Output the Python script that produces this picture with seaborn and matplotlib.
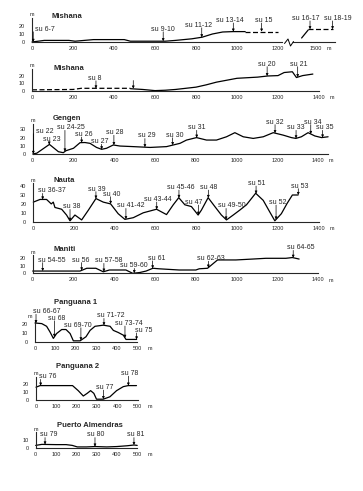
import numpy as np
import matplotlib
matplotlib.use("Agg")
import matplotlib.pyplot as plt
from matplotlib.lines import Line2D
import seaborn as sns

sns.set_style("white")
plt.rcParams['font.family'] = ['Liberation Sans', 'DejaVu Sans']

W, H = 363, 491

# ---------------- data (distance in m, elevation in m) ----------------
# Mishana (upper profile)
mish1_dist = [0, 30, 60, 100, 180, 210, 300, 350, 450, 480, 600, 650, 700, 780, 830, 880, 930, 980, 1040]
mish1_elev = [0, 1, 2, 2, 2, 1, 3, 3, 3, 1, 1, 1, 2, 4, 6, 10, 12.5, 13, 13]
mish1_dash_dist = [1040, 1200]
mish1_dash_elev = [13, 13]
mish1b_dist = [1430, 1462]
mish1b_elev = [5, 15]
mish1b_dash_dist = [1462, 1583]
mish1b_dash_elev = [16, 16]
mish1_names = ["su 6-7", "su 9-10", "su 11-12", "su 13-14", "su 15"]
mish1_sites = [6, 640, 828, 982, 1120]
mish1b_names = ["su 16-17", "su 18-19"]
mish1b_sites = [1471, 1581]

# Mishana (lower profile)
mish2_dash_dist = [0, 200, 240, 480]
mish2_dash_elev = [1.5, 2, 3.5, 3.5]
mish2_dist = [480, 540, 600, 650, 700, 800, 850, 900, 950, 1000, 1100, 1150, 1200, 1230, 1270, 1290, 1320, 1370]
mish2_elev = [3, 2, 0.5, 1, 2, 5, 8, 11.5, 14, 16.5, 18, 19.5, 20, 24, 25, 17.5, 20, 22]
mish2_names = ["su 8", "", "su 20", "su 21"]
mish2_sites = [312, 494, 1147, 1296]

# Gengen
geng_dist = [0, 20, 82, 126, 150, 163, 200, 232, 256, 281, 313, 338, 362, 395, 428, 493, 575, 656, 689,
             722, 754, 803, 852, 901, 950, 991, 1032, 1081, 1130, 1179, 1228, 1268, 1290, 1317, 1350,
             1383, 1416, 1448]
geng_elev = [0, 1, 11.7, 2.8, 1.6, 4, 7, 13.8, 14, 13, 8, 5.7, 7, 11, 9.7, 9, 8, 9, 11,
             13, 17, 20, 17, 17, 21, 26, 21, 19, 21, 26, 23, 20, 19, 21, 26,
             22, 20, 21]
geng_names = ["su 22", "su 23", "su 24-25", "su 26", "su 27", "su 28", "su 29", "su 30", "su 31",
              "su 32", "su 33", "su 34", "su 35"]
geng_sites = [3, 81, 158, 240, 338, 398, 550, 686, 804, 1188, 1291, 1363, 1421]

# Nauta
naut_dist = [0, 33, 65, 88, 98, 106, 139, 163, 180, 204, 237, 270, 307, 343, 379, 416, 449, 490, 539,
             604, 653, 686, 713, 743, 775, 808, 824, 857, 890, 922, 947, 980, 1012, 1045, 1090, 1127,
             1159, 1184, 1216, 1244, 1270, 1298]
naut_elev = [22, 25, 25, 20, 22, 16, 14, 7.5, 1, 7.5, 2, 13, 26, 22, 20, 9, 2.6, 4.5, 10,
             14, 8, 19, 27, 19, 17, 7.5, 13, 27, 17, 7.5, 2, 7.5, 13, 19, 32, 24,
             11, 1, 9, 20.5, 30, 30]
naut_names = ["su 36-37", "su 38", "su 39", "su 40", "su 41-42", "su 43-44", "su 45-46", "su 47",
              "su 48", "su 49-50", "su 51", "su 52", "su 53"]
naut_sites = [46, 180, 307, 379, 454, 605, 714, 809, 858, 945, 1092, 1190, 1299]

# Maniti
mani_dist = [0, 232, 265, 310, 346, 376, 457, 490, 524, 556, 589, 620, 718, 800, 816, 857, 906, 996,
             1078, 1143, 1241, 1273, 1306]
mani_elev = [3, 3, 6.7, 6.7, 2, 4.4, 4.4, 0, 1, 3, 6.7, 6, 4.4, 4.4, 6, 6.7, 17.8, 17.8,
             19, 20, 20, 21, 19]
mani_names = ["su 54-55", "su 56", "su 57-58", "su 59-60", "su 61", "su 62-63", "su 64-65"]
mani_sites = [49, 240, 349, 498, 588, 861, 1277]

# Panguana 1
pan1_dist = [0, 33, 57, 74, 90, 106, 131, 152, 172, 188, 221, 250, 270, 294, 335, 368, 384, 408, 433, 446, 498]
pan1_elev = [21.5, 20.8, 17.7, 11, 3.8, 9.4, 14, 14, 9.4, 1, 1, 5.7, 13, 17.7, 19, 17.7, 13, 10.6, 7.5, 2.6, 2.6]
pan1_names = ["su 66-67", "su 68", "su 69-70", "su 71-72", "su 73-74", "su 75"]
pan1_sites = [5, 95, 225, 338, 441, 498]

# Panguana 2
pan2_dist = [0, 20, 180, 208, 233, 252, 269, 285, 298, 331, 364, 397, 430, 454, 495]
pan2_elev = [16, 18, 18, 11.7, 5, 8.3, 11.7, 8.3, 1, 1, 4, 11.7, 16.7, 18, 18]
pan2_names = ["su 76", "su 77", "su 78"]
pan2_sites = [23, 332, 455]

# Puerto Almendras
puer_dist = [0, 30, 100, 150, 180, 205, 250, 292, 350, 400, 450, 484, 500]
puer_elev = [3, 4.3, 4, 4, 3, 1, 1, 1.5, 1, 1.5, 2.5, 3.5, 3]
puer_names = ["su 79", "su 80", "su 81"]
puer_sites = [46, 292, 484]

# ---------------- layout ----------------
fig = plt.figure(figsize=(W / 100, H / 100), dpi=100)
fig.patch.set_facecolor("white")

LW = 0.9
TICK_FS = 4
LAB_FS = 5


def make_axes(x0, base, sx, sy, xlim, ymax, xticks, yticks, unit=True, left=True, m_dx=0):
    ax = fig.add_axes([x0 / W, (H - base) / H, (xlim[1] - xlim[0]) * sx / W, ymax * sy / H])
    ax.set_facecolor("none")
    ax.set_xlim(*xlim)
    ax.set_ylim(0, ymax)
    for s in ["top", "right"]:
        ax.spines[s].set_visible(False)
    ax.spines["bottom"].set_linewidth(0.8)
    ax.spines["left"].set_linewidth(0.8)
    ax.set_xticks(xticks)
    ax.set_xticklabels([str(t) for t in xticks])
    ax.tick_params(axis="x", direction="inout", length=3, width=0.6, labelsize=TICK_FS, pad=1.5)
    if left:
        ax.set_yticks(yticks)
        ax.set_yticklabels([str(t) for t in yticks])
        ax.tick_params(axis="y", direction="inout", length=3, width=0.6, labelsize=TICK_FS, pad=3.5)
        ax.annotate("m", xy=(0, 1), xycoords="axes fraction", xytext=(m_dx, 0.5),
                    textcoords="offset points", ha="center", va="bottom",
                    fontsize=TICK_FS, annotation_clip=False)
    else:
        ax.spines["left"].set_visible(False)
        ax.set_yticks([])
    if unit:
        ax.annotate("m", xy=(xticks[-1], 0), xycoords=("data", "axes fraction"),
                    xytext=(7.5, -3.2), textcoords="offset points", ha="left", va="top",
                    fontsize=TICK_FS, annotation_clip=False)
    ax.set_xlabel("")
    ax.set_ylabel("")
    return ax


def profile(ax, dist, elev, dashed=False):
    sns.lineplot(x=dist, y=elev, ax=ax, color="black", lw=LW, sort=False, estimator=None,
                 linestyle="--" if dashed else "-", clip_on=False)
    if dashed:
        ax.lines[-1].set_dashes([4, 2])
    ax.set_xlabel("")
    ax.set_ylabel("")


def sites(ax, names, arrow_x, text_x, text_y, dist, elev, sy):
    half = 2.6 / sy
    order = np.argsort(dist)
    d = np.asarray(dist, float)[order]
    e = np.asarray(elev, float)[order]
    for n, a, tx, ty in zip(names, arrow_x, text_x, text_y):
        target = np.interp(a, d, e)
        ax.annotate("", xy=(a, target), xytext=(a, ty - half),
                    arrowprops=dict(arrowstyle="-|>", lw=0.5, color="black",
                                    mutation_scale=3.5, shrinkA=0, shrinkB=0),
                    annotation_clip=False)
        if n:
            ax.text(tx, ty, n, ha="center", va="center", fontsize=LAB_FS, clip_on=False)


def title(text, x, y):
    fig.text(x / W, 1 - y / H, text, ha="left", va="center", fontsize=5.5, fontweight="bold")


x200 = [0, 200, 400, 600, 800, 1000, 1200, 1400]
x100 = [0, 100, 200, 300, 400, 500]

# Mishana upper
ax = make_axes(32, 42, 0.205, 0.8, (0, 1220), 30, x200[:-1], [0, 10, 20], unit=False)
profile(ax, mish1_dist, mish1_elev)
profile(ax, mish1_dash_dist, mish1_dash_elev, dashed=True)
sites(ax, mish1_names, mish1_sites, [65, 640, 813, 964, 1132], [16, 16, 21, 27, 27],
      mish1_dist + mish1_dash_dist, mish1_elev + mish1_dash_elev, 0.8)
title("Mishana", 52, 16)

axb = make_axes(293, 42, 0.205, 0.8, (1388, 1593), 30, [1500], [], unit=True, left=False)
profile(axb, mish1b_dist, mish1b_elev)
profile(axb, mish1b_dash_dist, mish1b_dash_elev, dashed=True)
sites(axb, mish1b_names, mish1b_sites, [1448, 1606], [29.6, 29.6],
      mish1b_dist + mish1b_dash_dist, mish1b_elev + mish1b_dash_elev, 0.8)
# axis break mark
bx = np.array([284.5, 288, 290.5, 293.5])
by = np.array([43.5, 39, 46, 41.5])
fig.add_artist(Line2D(bx / W, 1 - by / H, color="black", lw=0.7))

# Mishana lower
ax = make_axes(32, 91, 0.205, 0.77, (0, 1400), 29, x200, [0, 10, 20])
profile(ax, mish2_dist, mish2_elev)
profile(ax, mish2_dash_dist, mish2_dash_elev, dashed=True)
sites(ax, mish2_names, mish2_sites, [307, 494, 1147, 1299], [16.6, 17, 35, 35],
      mish2_dist + mish2_dash_dist, mish2_elev + mish2_dash_elev, 0.77)
title("Mishana", 53, 68)

# Gengen
ax = make_axes(32.7, 154, 0.204, 0.82, (0, 1450), 37, x200, [0, 10, 20, 30])
profile(ax, geng_dist, geng_elev)
sites(ax, geng_names, geng_sites,
      [58, 93, 189, 248, 330, 402, 559, 696, 804, 1188, 1289, 1371, 1430],
      [28, 18, 32, 23.8, 15, 26, 22, 23, 32, 39, 32, 39, 32],
      geng_dist, geng_elev, 0.82)
title("Gengen", 53, 119)

# Nauta
ax = make_axes(33.3, 221.7, 0.204, 0.89, (0, 1400), 43, x200, [0, 10, 20, 30, 40])
profile(ax, naut_dist, naut_elev)
sites(ax, naut_names, naut_sites,
      [92, 188, 311, 386, 478, 609, 723, 784, 860, 972, 1095, 1196, 1305],
      [34.7, 16.7, 36.7, 31, 17.8, 25, 38.4, 21.6, 38.4, 17.8, 43, 21.6, 40],
      naut_dist, naut_elev, 0.89)
title("Nauta", 53, 180.5)

# Maniti
ax = make_axes(32.7, 273.3, 0.204, 0.75, (0, 1400), 24, x200, [0, 10, 20])
profile(ax, mani_dist, mani_elev)
sites(ax, mani_names, mani_sites,
      [93, 234, 375, 497, 606, 873, 1314],
      [17.7, 17.7, 16.7, 10, 20, 19.5, 34],
      mani_dist, mani_elev, 0.75)
title("Maniti", 54, 249.7)

# Panguana 1
ax = make_axes(35, 341.7, 0.204, 0.87, (0, 500), 25, x100, [0, 10, 20], m_dx=-3.5)
profile(ax, pan1_dist, pan1_elev)
sites(ax, pan1_names, pan1_sites,
      [57, 106, 212, 372, 460, 533],
      [34.5, 27, 19, 29.7, 21, 13],
      pan1_dist, pan1_elev, 0.87)
title("Panguana 1", 54, 302)

# Panguana 2
ax = make_axes(36, 400, 0.203, 0.8, (0, 500), 29, x100, [0, 10, 20])
profile(ax, pan2_dist, pan2_elev)
sites(ax, pan2_names, pan2_sites, [57, 340, 461], [29, 15.6, 33],
      pan2_dist, pan2_elev, 0.8)
title("Panguana 2", 56, 367)

# Puerto Almendras
ax = make_axes(35.7, 447.7, 0.203, 0.77, (0, 500), 20, x100, [0, 10])
profile(ax, puer_dist, puer_elev)
sites(ax, puer_names, puer_sites, [62, 296, 495], [16.5, 16.5, 16.5],
      puer_dist, puer_elev, 0.77)
title("Puerto Almendras", 57, 425.8)

fig.savefig("out.png", dpi=100, facecolor="white")
